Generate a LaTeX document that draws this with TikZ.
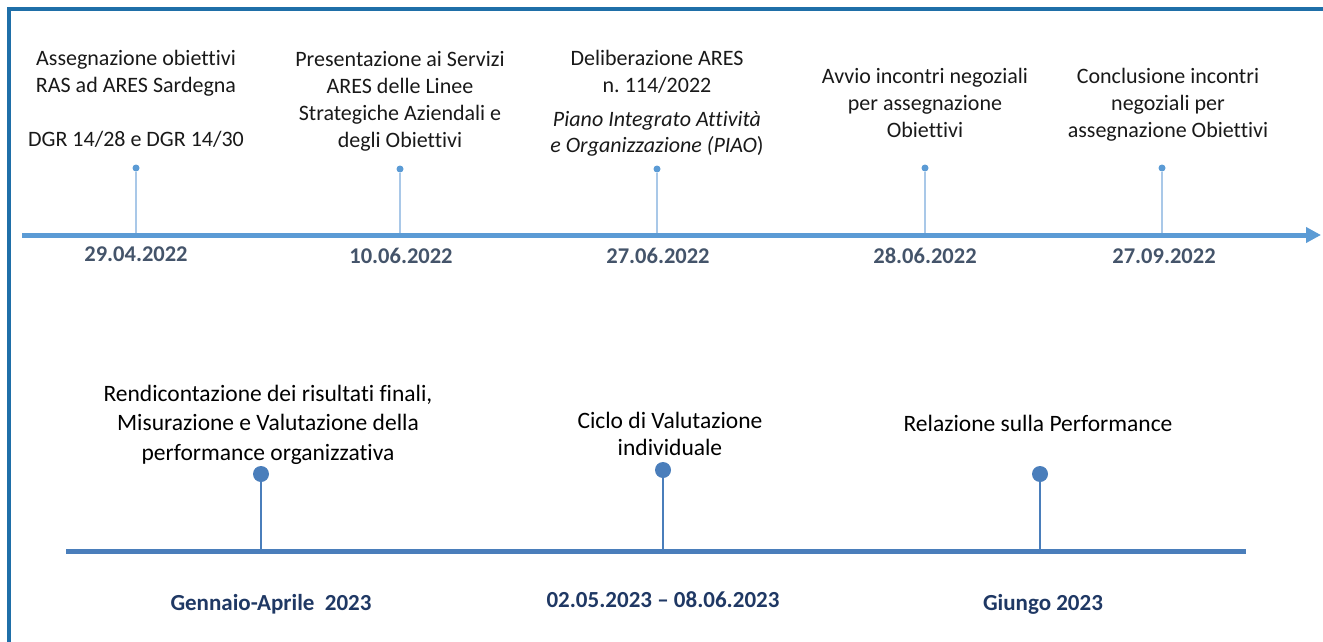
\documentclass[tikz,border=0pt]{standalone}
\usepackage{fontspec}
\setmainfont{Carlito}[Ligatures=NoCommon]
\usetikzlibrary{arrows.meta}
\definecolor{framecol}{HTML}{1F6FA8}
\definecolor{axiscol}{HTML}{5B9BD5}
\definecolor{stemcol}{HTML}{A9C8E8}
\definecolor{datecol}{HTML}{44546A}
\definecolor{botcol}{HTML}{4A7EBB}
\definecolor{botdate}{HTML}{1F3864}
\tikzset{
  toptxt/.style={font=\fontsize{22}{27}\selectfont, align=center, anchor=base, text=black!90, inner sep=0pt},
  topdate/.style={font=\fontsize{22.5}{26}\selectfont\bfseries, text=datecol, anchor=base, inner sep=0pt},
  tdot/.style={circle, fill=axiscol, minimum size=7pt, inner sep=0pt},
  tstem/.style={draw=stemcol, line width=1.2pt},
  axisline/.style={draw=axiscol, line width=5pt, -{Triangle[length=15pt,width=15pt]}},
  bottxt/.style={font=\fontsize{23.5}{29.5}\selectfont, align=center, anchor=base, text=black, inner sep=0pt},
  botdatesty/.style={font=\fontsize{23}{27}\selectfont\bfseries, text=botdate, anchor=base, inner sep=0pt},
  bdot/.style={circle, fill=botcol, minimum size=16pt, inner sep=0pt},
  bstem/.style={draw=botcol, line width=2pt},
  botline/.style={draw=botcol, line width=5pt},
  framesty/.style={draw=framecol, line width=4pt}
}
\begin{document}
\begin{tikzpicture}[x=1pt,y=-1pt]
\useasboundingbox (0,0) rectangle (1323,642);
% frame
\coordinate (fa) at (9,642);
\coordinate (fb) at (9,9);
\coordinate (fc) at (1323,9);
\draw[framesty] (fa) -- (fb) -- (fc);

% top texts (anchor=base = baseline of last line)
\node[toptxt] (t1) at (136,146) {Assegnazione obiettivi\\RAS ad ARES Sardegna\\[27pt]DGR 14/28 e DGR 14/30};
\node[toptxt] (t2) at (400,147) {Presentazione ai Servizi\\ARES delle Linee\\Strategiche Aziendali e\\degli Obiettivi};
\node[toptxt] (t3) at (657,152) {Deliberazione ARES\\n.\ 114/2022\\[7pt]\textit{Piano Integrato Attività}\\[-1pt]\textit{e Organizzazione (PIAO})};
\node[toptxt] (t4) at (925,137) {Avvio incontri negoziali\\per assegnazione\\Obiettivi};
\node[toptxt] (t5) at (1168,137) {Conclusione incontri\\negoziali per\\assegnazione Obiettivi};

% top axis
\coordinate (as) at (22,235);
\coordinate (ae) at (1321,235);
\draw[axisline] (as) -- (ae);

% top dots and stems
\node[tdot] (d1) at (136,168) {};
\node[tdot] (d2) at (400,169) {};
\node[tdot] (d3) at (657,169) {};
\node[tdot] (d4) at (925,168) {};
\node[tdot] (d5) at (1162,168) {};
\coordinate (a1) at (136,233);
\coordinate (a2) at (400,233);
\coordinate (a3) at (657,233);
\coordinate (a4) at (925,233);
\coordinate (a5) at (1162,233);
\foreach \i in {1,...,5} { \draw[tstem] (d\i.south) -- (a\i); }

% top dates
\node[topdate] (x1) at (136,261) {29.04.2022};
\node[topdate] (x2) at (401,263) {10.06.2022};
\node[topdate] (x3) at (658,263) {27.06.2022};
\node[topdate] (x4) at (925,263) {28.06.2022};
\node[topdate] (x5) at (1164,263) {27.09.2022};

% bottom texts
\node[bottxt] (b1) at (268,460) {Rendicontazione dei risultati finali,\\Misurazione e Valutazione della\\performance organizzativa};
\node[bottxt] (b2) at (670,455) {Ciclo di Valutazione\\[-2.5pt]individuale};
\node[bottxt] (b3) at (1038,431) {Relazione sulla Performance};

% bottom line
\coordinate (ls) at (66,551);
\coordinate (le) at (1246,551);
\draw[botline] (ls) -- (le);

% bottom dots and stems
\coordinate (c1) at (261,549);
\coordinate (c2) at (663,549);
\coordinate (c3) at (1040,549);
\node[bdot] (e1) at (261,474) {};
\node[bdot] (e2) at (663,470) {};
\node[bdot] (e3) at (1040,474) {};
\foreach \i in {1,2,3} { \draw[bstem] (e\i.south) -- (c\i); }

% bottom dates
\node[botdatesty] (y1) at (271,610) {Gennaio-Aprile~ 2023};
\node[botdatesty] (y2) at (663,607) {02.05.2023 -- 08.06.2023};
\node[botdatesty] (y3) at (1043,610) {Giungo 2023};
\end{tikzpicture}
\end{document}
